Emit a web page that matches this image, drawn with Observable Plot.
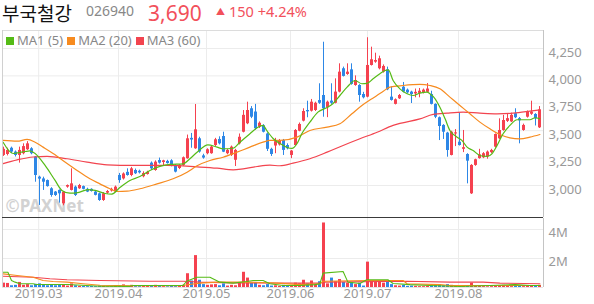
<!DOCTYPE html>
<html><head><meta charset="utf-8">
<script src="https://cdn.jsdelivr.net/npm/d3@7"></script>
<script src="https://cdn.jsdelivr.net/npm/@observablehq/plot@0.6"></script>
<style>
body{margin:0;background:#fff;font-family:"Noto Sans","Noto Sans CJK KR",sans-serif;}
#wrap{position:relative;width:594px;height:304px;overflow:hidden;background:#fff;}
.abs{position:absolute;white-space:nowrap;line-height:1.25;}
#name{left:2px;top:1px;font-size:19px;color:#111;font-family:"Noto Sans CJK KR",sans-serif;line-height:1.3;}
#code{left:86px;top:2px;font-size:14px;color:#888;}
#price{left:148px;top:0px;font-size:21px;color:#f2505b;line-height:1.3;}
#chg{left:216px;top:2px;font-size:14.5px;color:#f2505b;}
#chg .tri{font-size:9px;position:relative;top:-2px;margin-right:4px;}
#legend{left:6px;top:33px;font-size:13px;color:#888;line-height:1.2;}
#legend .sw{display:inline-block;width:8px;height:8px;margin-right:3px;}
#legend .it{margin-right:4px;}
#p1{left:0;top:30px;line-height:0;} #p2{left:0;top:218px;line-height:0;}
</style></head><body>
<div id="wrap">
  <div id="p1" class="abs"></div>
  <div id="p2" class="abs"></div>
  <div id="name" class="abs">부국철강</div>
  <div id="code" class="abs">026940</div>
  <div id="price" class="abs">3,690</div>
  <div id="chg" class="abs"><span class="tri">▲</span>150 +4.24%</div>
  <div id="legend" class="abs"></div>
</div>
<script>
// ---- data ----
const open = [3274,3283,3340,3305,3274,3290,3326,3335,3260,3076, 3060,3045,2970,2940,2955,2833,2985,2955,2985,2970, 2990,2965,2965,2940,2924,2863,2930,2950,2940,3091, 3060,3120,3091,3137,3130,3080,3100,3204,3137,3228, 3210,3220,3225,3183,3155,3183,3244,3430,3335,3426, 3270,3290,3290,3365,3420,3447,3290,3275,3230,3380, 3486,3563,3700,3670,3532,3545,3470,3330,3360,3370, 3410,3365,3274,3365,3495,3587,3684,3678,3684,3775, 3821,3710,3770,3750,3852,4065,4013,4055,3912,3912, 3830,3806,4095,4125,4065,4034,4055,3806,3740,3791, 3897,3870,3852,3835,3840,3845,3850,3830,3740,3618, 3548,3478,3274,3470,3395,3330,3283,2924,3183,3245, 3253,3260,3300,3350,3426,3502,3585,3580,3655,3610, 3502,3623,3650,3648,3526];
const high = [3350,3340,3350,3315,3350,3380,3400,3345,3265,3085, 3076,3050,2980,2945,2960,2945,3005,3152,2995,3010, 2995,2975,2970,2950,2930,2935,2955,2975,2995,3110, 3115,3152,3165,3150,3140,3125,3130,3215,3225,3250, 3230,3230,3235,3190,3190,3260,3460,3475,3739,3440, 3285,3335,3360,3430,3444,3486,3330,3360,3330,3470, 3684,3760,3720,3740,3580,3555,3480,3340,3430,3420, 3420,3380,3320,3510,3570,3700,3769,3785,3760,3928, 4307,3770,3928,3973,4110,4080,4110,4110,4000,3920, 3850,4348,4262,4207,4180,4100,4080,3900,3790,3830, 3940,3880,3860,3880,3885,3880,3930,3860,3745,3625, 3555,3485,3495,3510,3660,3502,3290,3190,3240,3330, 3300,3315,3330,3470,3608,3640,3650,3660,3700,3620, 3560,3680,3769,3655,3720];
const low = [3265,3270,3290,3260,3204,3280,3320,3280,3030,2818, 2955,2985,2893,2900,2839,2815,2975,2950,2900,2965, 2960,2935,2940,2905,2855,2855,2920,2940,2935,3020, 3050,3085,3080,3100,3105,3070,3095,3140,3130,3195, 3180,3195,3170,3115,3145,3175,3240,3340,3330,3295, 3240,3280,3285,3355,3370,3300,3280,3265,3173,3370, 3480,3555,3610,3505,3520,3480,3310,3265,3290,3360, 3274,3325,3245,3360,3490,3580,3618,3670,3675,3740, 3623,3619,3740,3745,3845,3990,4005,3915,3905,3760, 3790,3800,4090,4115,4055,4025,3865,3770,3735,3785, 3845,3835,3748,3800,3800,3835,3845,3735,3610,3410, 3420,3258,3270,3355,3360,3300,3015,2918,3175,3240, 3245,3240,3290,3340,3420,3495,3575,3575,3610,3380, 3495,3615,3640,3543,3520];
const close = [3330,3320,3305,3274,3320,3355,3380,3290,3091,3058, 3030,2990,2909,2909,2924,2940,3000,3015,2909,3000, 2965,2940,2945,2910,2863,2924,2945,2965,2985,3045, 3105,3091,3152,3107,3115,3110,3120,3152,3213,3204, 3225,3200,3175,3122,3183,3253,3426,3415,3508,3305, 3250,3326,3350,3417,3380,3304,3320,3350,3320,3440, 3640,3684,3623,3517,3568,3486,3330,3283,3400,3410, 3320,3335,3314,3502,3557,3675,3672,3760,3750,3750, 3700,3760,3750,3852,4034,3995,4034,3922,3958,3821, 3800,4095,4147,4140,4156,4086,3873,3776,3782,3821, 3852,3845,3830,3850,3860,3870,3880,3740,3623,3538, 3486,3319,3486,3480,3365,3345,3222,3183,3235,3280, 3290,3305,3320,3465,3502,3593,3610,3640,3618,3590, 3548,3669,3670,3608,3690];
// volume in millions of shares
const volume = [.30,.28,.12,.15,.35,.15,.20,.12,.22,.25, .15,.12,.15,.12,.18,.20,.10,.25,.12,.08, .08,.06,.07,.06,.10,.08,.05,.05,.08,.12, .18,.08,.15,.06,.06,.10,.08,.10,.15,.12, .06,.05,.08,.06,.08,.15,.95,.45,2.2,.50, .20,.15,.18,.20,.12,.25,.10,.15,.12,.30, 1.05,.65,.30,.35,.15,.12,.20,.10,.12,.08, .15,.10,.12,.30,.25,.50,.25,.45,.20,.40, 4.45,.25,.65,.40,.55,.35,.30,.35,.20,.30, .10,1.75,.45,.35,.40,.30,.35,.20,.12,.10, .15,.08,.10,.08,.06,.06,.08,.12,.15,.20, .12,.20,.15,.10,.08,.06,.08,.30,.10,.08, .06,.05,.06,.12,.10,.15,.08,.06,.08,.10, .06,.12,.12,.10,.15];
const volUpOverride = [80];

// moving averages: [day index, value]
const ma1Price = [[-0.1,3395],[2.4,3292],[5.4,3310],[6.6,3315],[7.9,3292],[10.4,3183],[12.9,3046],[14.6,2955],[16.6,2930],[18.6,2935],[21.1,2963],[22.9,2955],[25.4,2927],[27.1,2922],[29.1,2982],[31.6,3046],[34.1,3082],[36.6,3137],[41.6,3192],[44.9,3198],[46.6,3244],[48.4,3304],[51.1,3371],[53.4,3350],[54.9,3335],[57.4,3340],[59.1,3395],[61.6,3472],[63.6,3532],[64.9,3548],[65.8,3502],[67.4,3429],[69.1,3383],[70.9,3347],[72.1,3338],[73.4,3383],[74.6,3474],[76.6,3578],[78.6,3669],[80.9,3712],[82.4,3748],[84.1,3821],[85.9,3897],[87.9,3958],[89.6,3928],[90.9,3931],[92.4,3973],[94.1,4019],[95.4,4049],[96.2,4055],[97.4,3958],[99.1,3882],[100.9,3837],[102.4,3821],[104.1,3842],[105.9,3851],[106.6,3837],[107.9,3791],[109.1,3714],[110.4,3608],[111.6,3502],[113.4,3441],[114.6,3411],[115.9,3350],[117.4,3319],[119.1,3274],[120.9,3265],[122.1,3289],[123.4,3365],[124.9,3472],[126.6,3548],[128.4,3600],[129.9,3600],[131.6,3600],[132.9,3618],[134.1,3608]];
const ma2Price = [[-0.1,3411],[3.4,3404],[5.9,3420],[7.9,3395],[9.9,3350],[12.4,3292],[15.9,3201],[18.4,3137],[21.6,3061],[24.1,3015],[26.6,2970],[28.4,2945],[30.9,2948],[34.1,2970],[38.4,3015],[42.4,3061],[45.9,3121],[48.4,3180],[51.6,3228],[54.9,3258],[58.4,3304],[61.6,3350],[64.9,3395],[66.6,3411],[69.1,3411],[73.4,3441],[76.6,3502],[80.9,3532],[84.1,3563],[87.1,3654],[89.6,3730],[92.1,3791],[94.6,3851],[96.6,3897],[99.9,3912],[104.1,3922],[106.6,3912],[109.1,3882],[111.6,3806],[114.1,3730],[116.6,3654],[119.1,3578],[121.6,3517],[124.1,3465],[126.6,3435],[129.1,3426],[131.6,3441],[134.1,3465]];
const ma3Price = [[-0.1,3200],[3.4,3234],[7.4,3260],[10.9,3265],[15.9,3244],[20.9,3213],[25.9,3189],[32.4,3183],[40.9,3183],[48.4,3170],[53.4,3158],[57.4,3143],[59.9,3152],[63.4,3173],[66.6,3185],[69.1,3180],[72.4,3204],[76.6,3244],[80.9,3304],[84.9,3365],[89.1,3426],[93.4,3486],[97.4,3548],[99.1,3566],[104.1,3608],[107.4,3648],[110.9,3660],[114.9,3669],[119.1,3660],[123.4,3654],[127.4,3660],[131.6,3678],[134.1,3690]];
const ma1Vol = [[-0.1,1.05],[1.1,1.05],[2.0,0.48],[2.9,0.37],[4.1,0.26],[7.4,0.26],[8.1,0.21],[16.1,0.21],[24.1,0.09],[31.6,0.08],[32.4,0.14],[44.9,0.14],[45.8,0.43],[48.3,0.71],[51.6,0.71],[54.1,0.37],[57.4,0.30],[60.8,0.41],[62.4,0.48],[64.9,0.48],[66.6,0.26],[69.9,0.14],[74.1,0.14],[77.9,0.20],[79.1,0.26],[79.9,0.99],[84.9,1.10],[86.1,0.37],[89.1,0.28],[90.8,0.53],[96.1,0.53],[97.4,0.28],[101.6,0.20],[106.6,0.14],[114.1,0.07],[121.6,0.14],[127.9,0.20],[131.6,0.14],[134.1,0.14]];
const ma2Vol = [[-0.1,0.94],[3.4,0.83],[7.4,0.71],[9.9,0.48],[12.4,0.41],[15.9,0.37],[19.9,0.26],[24.1,0.16],[32.4,0.12],[44.1,0.12],[49.1,0.30],[53.4,0.37],[61.6,0.37],[68.4,0.30],[74.1,0.20],[79.1,0.26],[79.9,0.43],[90.8,0.48],[99.9,0.48],[100.9,0.26],[109.1,0.20],[111.6,0.14],[134.1,0.14]];
const ma3Vol = [[-0.1,0.78],[7.4,0.71],[11.6,0.60],[15.9,0.53],[24.1,0.48],[36.6,0.43],[44.9,0.43],[49.1,0.37],[57.4,0.32],[74.1,0.30],[79.1,0.30],[79.9,0.37],[100.9,0.43],[111.6,0.37],[119.9,0.37],[124.1,0.30],[134.1,0.26]];

const monthTicks = [8.8, 28.75, 50.75, 71.75, 91, 113.75];
const monthLabels = ["2019.03","2019.04","2019.05","2019.06","2019.07","2019.08"];
const priceTicks = [3000, 3250, 3500, 3750, 4000, 4250];
const volTicks = [2, 4];
const maNames = ["MA1 (5)", "MA2 (20)", "MA3 (60)"];

// ---- styling ----
const RED = "#f5414f", BLUE = "#2d87e6";
const maColors = ["#55bb16", "#f78b1f", "#f2444f"];
const GRID = "#ececec", AXIS_TEXT = "#999";
const xDomain = [-0.25, 135];
const priceDomain = [2708, 4414];
const volDomain = [0, 4.7586];
const font = '"Noto Sans", sans-serif';

const candles = open.map((o, i) => ({i, o, h: high[i], l: low[i], c: close[i], v: volume[i],
  up: close[i] >= open[i], vup: volUpOverride.includes(i) ? true : close[i] >= open[i]}));
const toPts = a => a.map(([i, v]) => ({i, v}));
const up = candles.filter(d => d.up), dn = candles.filter(d => !d.up);

const price = Plot.plot({
  width: 594, height: 188, marginLeft: 2, marginRight: 51, marginTop: 0, marginBottom: 1,
  x: {domain: xDomain, axis: null},
  y: {domain: priceDomain, axis: null},
  style: {fontFamily: font, fontSize: "13px", background: "transparent", overflow: "visible"},
  marks: [
    Plot.gridY(priceTicks, {stroke: GRID, strokeOpacity: 1}),
    Plot.gridX(monthTicks, {stroke: GRID, strokeOpacity: 1}),
    Plot.axisY(priceTicks, {anchor: "right", label: null, tickSize: 0, tickPadding: 5, dy: 4, tickFormat: d3.format(","), fill: AXIS_TEXT}),
    Plot.text(["©PAXNet"], {frameAnchor: "bottom-left", dx: 3, dy: -6, fontSize: 17, fontWeight: "bold", fill: "#d2d2d2", textAnchor: "start"}),
    Plot.ruleX(up, {x: "i", y1: "l", y2: "h", stroke: RED, strokeWidth: 1}),
    Plot.ruleX(dn, {x: "i", y1: "l", y2: "h", stroke: BLUE, strokeWidth: 1}),
    Plot.ruleX(up, {x: "i", y1: "o", y2: "c", stroke: RED, strokeWidth: 3}),
    Plot.ruleX(dn, {x: "i", y1: "o", y2: "c", stroke: BLUE, strokeWidth: 3}),
    Plot.line(toPts(ma3Price), {x: "i", y: "v", stroke: maColors[2], strokeWidth: 1.2, curve: "monotone-x"}),
    Plot.line(toPts(ma2Price), {x: "i", y: "v", stroke: maColors[1], strokeWidth: 1.2, curve: "monotone-x"}),
    Plot.line(toPts(ma1Price), {x: "i", y: "v", stroke: maColors[0], strokeWidth: 1.2, curve: "monotone-x"}),
    Plot.ruleY([priceDomain[1]], {stroke: "#dcdcdc"}),
    Plot.ruleX([xDomain[0]], {stroke: "#d0d0d0"}),
    Plot.ruleX([xDomain[1]], {stroke: "#c4c4c4"}),
    Plot.ruleY([priceDomain[0]], {stroke: "#3a3a3a"})
  ]
});
document.getElementById("p1").appendChild(price);

const vup = candles.filter(d => d.vup), vdn = candles.filter(d => !d.vup);
const vol = Plot.plot({
  width: 594, height: 86, marginLeft: 2, marginRight: 51, marginTop: 0, marginBottom: 17,
  x: {domain: xDomain, axis: null},
  y: {domain: volDomain, axis: null},
  style: {fontFamily: font, fontSize: "13px", background: "transparent", overflow: "visible"},
  marks: [
    Plot.gridY(volTicks, {stroke: GRID, strokeOpacity: 1}),
    Plot.gridX(monthTicks, {stroke: GRID, strokeOpacity: 1}),
    Plot.axisY(volTicks, {anchor: "right", label: null, tickSize: 0, tickPadding: 5, dy: 3, tickFormat: d => d + "M", fill: AXIS_TEXT}),
    Plot.axisX(monthTicks, {anchor: "bottom", label: null, tickSize: 0, tickPadding: 1, tickFormat: d => monthLabels[monthTicks.indexOf(d)], fill: AXIS_TEXT}),
    Plot.ruleX(vup, {x: "i", y1: 0, y2: "v", stroke: RED, strokeWidth: 3}),
    Plot.ruleX(vdn, {x: "i", y1: 0, y2: "v", stroke: BLUE, strokeWidth: 3}),
    Plot.line(toPts(ma3Vol), {x: "i", y: "v", stroke: maColors[2], strokeWidth: 1.1}),
    Plot.line(toPts(ma2Vol), {x: "i", y: "v", stroke: maColors[1], strokeWidth: 1.1}),
    Plot.line(toPts(ma1Vol), {x: "i", y: "v", stroke: maColors[0], strokeWidth: 1.1}),
    Plot.ruleX([xDomain[0]], {stroke: "#d0d0d0"}),
    Plot.ruleX([xDomain[1]], {stroke: "#c4c4c4"}),
    Plot.ruleY([0], {stroke: "#e4e4e4"})
  ]
});
document.getElementById("p2").appendChild(vol);

const lg = document.getElementById("legend");
maNames.forEach((n, k) => {
  const s = document.createElement("span"); s.className = "it";
  s.innerHTML = `<span class="sw" style="background:${maColors[k]}"></span>${n}`;
  lg.appendChild(s);
});
</script>
</body></html>
